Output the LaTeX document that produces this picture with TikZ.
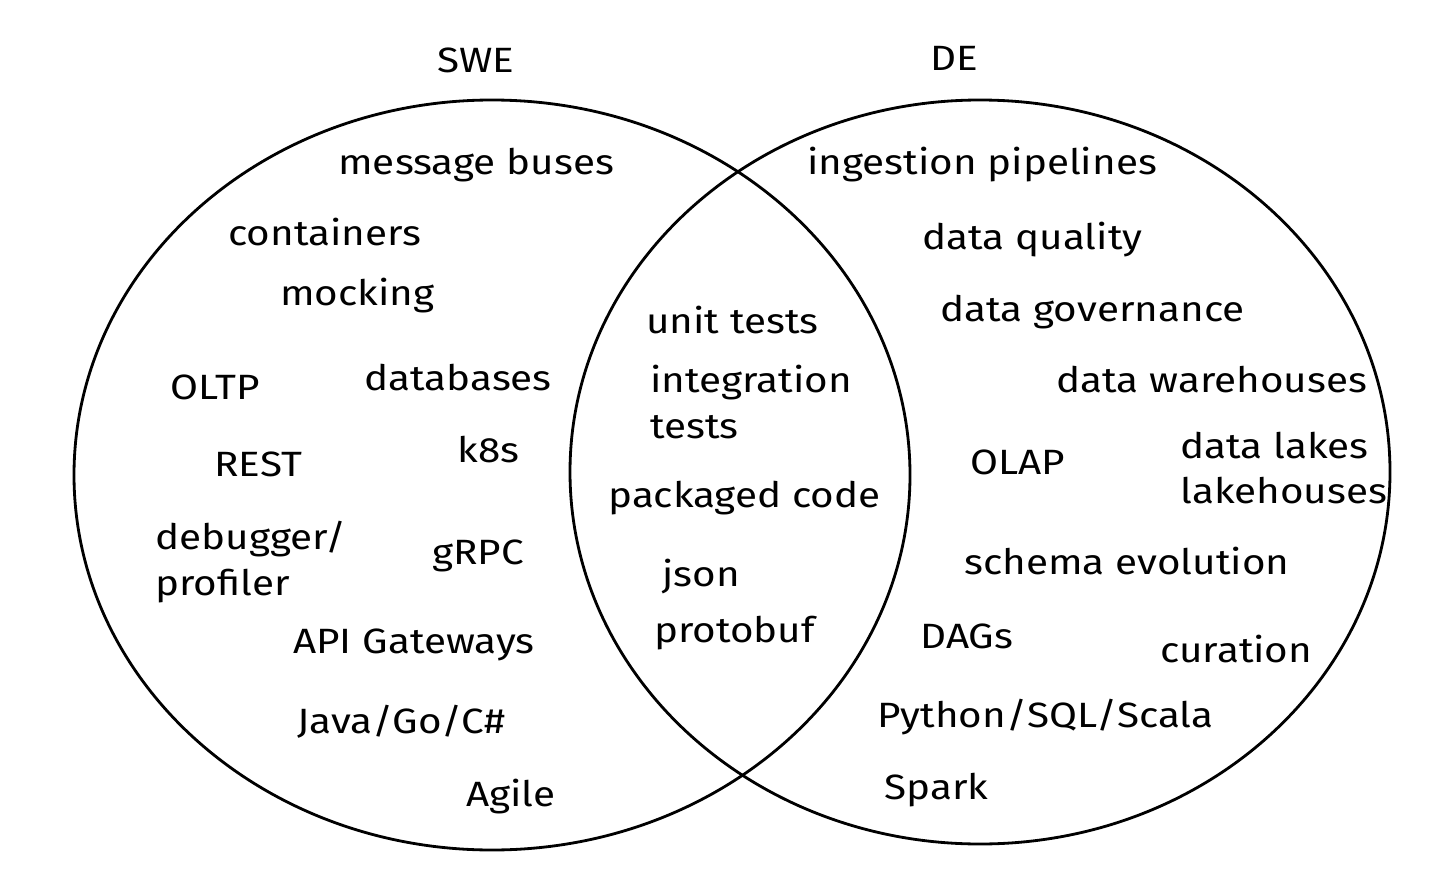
\documentclass[tikz,border=0pt]{standalone}
\usepackage{fontspec}
\setmainfont[FakeStretch=1.15]{Fira Sans}
\begin{document}
\begin{tikzpicture}[x=0.02cm,y=-0.02cm,
  lbl/.style={anchor=west,inner sep=0pt,font=\fontsize{20}{26}\selectfont},
  ring/.style={draw=black,line width=1.6pt}]
\useasboundingbox (0,0) rectangle (1456,885);
\draw[ring] (492,475) ellipse [x radius=418, y radius=375];
\draw[ring] (980,472) ellipse [x radius=410, y radius=372];
\node[lbl] (swe) at (437,60) {SWE};
\node[lbl] (de) at (930,58) {DE};
\foreach \t/\x/\y/\n in {message buses/338/165/a1,containers/228/232/a2,mocking/280/296/a3,OLTP/170/387/a4,databases/364/378/a5,REST/214/464/a6,k8s/457/450/a7,gRPC/432/556/a9,API Gateways/293/645/a10,Agile/466/797/a12,unit tests/646/320/b1,packaged code/608/498/b3,json/662/577/b4,protobuf/654/633/b5,ingestion pipelines/807/165/c1,data quality/922/240/c2,data governance/940/312/c3,data warehouses/1056/380/c4,OLAP/970/462/c5,schema evolution/964/561/c7,DAGs/920/636/c8,curation/1160/649/c9,Spark/884/790/c11}
  \node[lbl] (\n) at (\x,\y) {\t};
\node[lbl] (a11) at (297,722) {Java/Go/C\#};
\node[lbl] (c10) at (877,717) {Python/SQL/Scala};
\node[lbl,align=left] (a8) at (155,562) {debugger/\\profiler};
\node[lbl,align=left] (b2) at (650,402) {integration\\tests};
\node[lbl,align=left] (c6) at (1180,468) {data lakes\\lakehouses};
\end{tikzpicture}
\end{document}
